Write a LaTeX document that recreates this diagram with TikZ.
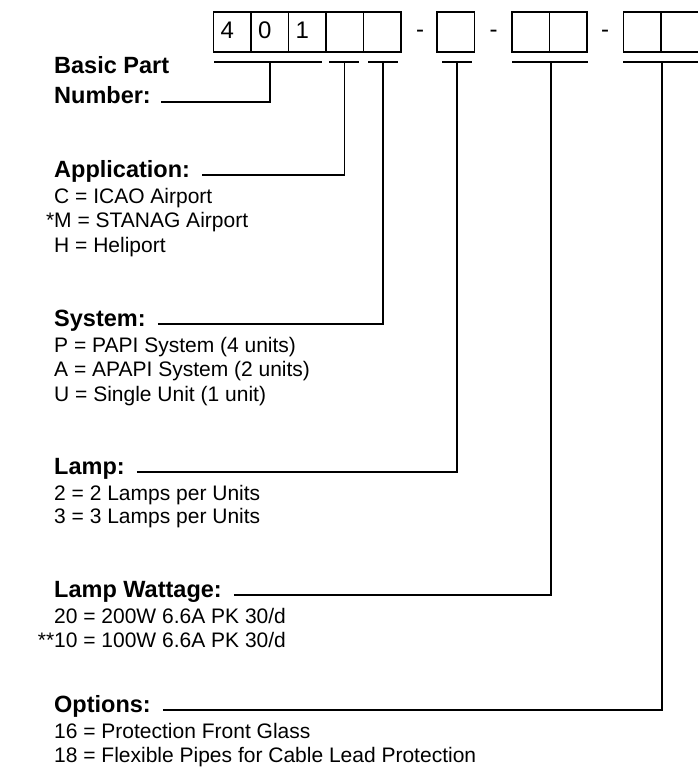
\documentclass[tikz,border=0pt]{standalone}
\usepackage{fontspec}
\setmainfont{Liberation Sans}
\begin{document}
\begin{tikzpicture}[x=1pt,y=1pt,yscale=-1,xscale=1,
  cell/.style={draw,line width=1.4pt,outer sep=0pt,inner sep=0pt,minimum width=37.5pt,minimum height=40pt,anchor=north west},
  digit/.style={anchor=base west,inner sep=0pt,font=\fontsize{24}{28}\selectfont},
  hyph/.style={anchor=base,inner sep=0pt,font=\fontsize{24}{28}\selectfont},
  head/.style={anchor=base west,inner sep=0pt,font=\fontsize{23.5}{28}\selectfont\bfseries},
  item/.style={anchor=base west,inner sep=0pt,font=\fontsize{21}{24}\selectfont},
  lead/.style={line width=1.3pt}]
\useasboundingbox (0,0) rectangle (697,768);

%Shape: Part number boxes
\foreach \n/\x in {1/213.5,2/251,3/288.5,4/326,5/363.5,6/437,7/512,8/549.5,9/623.5,10/661}
  \node[cell] (b\n) at (\x,12) {};
% Text Node
\node[digit] (d1) at (220.5,39) {4};
\node[digit] (d2) at (258,39) {0};
\node[digit] (d3) at (295.5,39) {1};
\node[hyph] (h1) at (420,37.5) {-};
\node[hyph] (h2) at (493.5,37.5) {-};
\node[hyph] (h3) at (605,37.5) {-};

%Shape: Underlines and their ticks
\foreach \a/\b in {214/322,329/359,368/398,442/472,512/588,623/698}
  \draw[lead] (\a,62) -- (\b,62);
\coordinate (t1) at (270,62);
\coordinate (t2) at (344.5,62);
\coordinate (t3) at (383,62);
\coordinate (t4) at (457,62);
\coordinate (t5) at (551,62);
\coordinate (t6) at (662,62);

% Text Node
\node[head] (basic) at (54,74) {Basic Part};
\node[head] (num) at (54,103) {Number:};
\node[head] (app) at (54,177) {Application:};
\node[head] (sys) at (54,326) {System:};
\node[head] (lamp) at (54,474) {Lamp:};
\node[head] (watt) at (54,597) {Lamp Wattage:};
\node[head] (opt) at (54,712) {Options:};

%Shape: Leader lines
\draw[lead] (num.base east) ++(10,-1) -| (t1);
\draw[lead] (app.base east) ++(12,-2) -| (t2);
\draw[lead] (sys.base east) ++(12,-2) -| (t3);
\draw[lead] (lamp.base east) ++(12,-2) -| (t4);
\draw[lead] (watt.base east) ++(12,-2) -| (t5);
\draw[lead] (opt.base east) ++(12,-2) -| (t6);

% Text Node
\foreach \txt [count=\i] in {C = ICAO Airport,{\llap{*}M = STANAG Airport},H = Heliport}
  \node[item] (app\i) at (54,203+24.5*\i-24.5) {\txt};
\foreach \txt [count=\i] in {P = PAPI System (4 units),A = APAPI System (2 units),U = Single Unit (1 unit)}
  \node[item] (sys\i) at (54,352+24.5*\i-24.5) {\txt};
\foreach \txt [count=\i] in {2 = 2 Lamps per Units,3 = 3 Lamps per Units}
  \node[item] (lamp\i) at (54,500+23.5*\i-23.5) {\txt};
\foreach \txt [count=\i] in {20 = 200W 6.6A PK 30/d,{\llap{**}10 = 100W 6.6A PK 30/d}}
  \node[item] (watt\i) at (54,623+24*\i-24) {\txt};
\foreach \txt [count=\i] in {16 = Protection Front Glass,18 = Flexible Pipes for Cable Lead Protection}
  \node[item] (opt\i) at (54,738+24.5*\i-24.5) {\txt};
\end{tikzpicture}
\end{document}
